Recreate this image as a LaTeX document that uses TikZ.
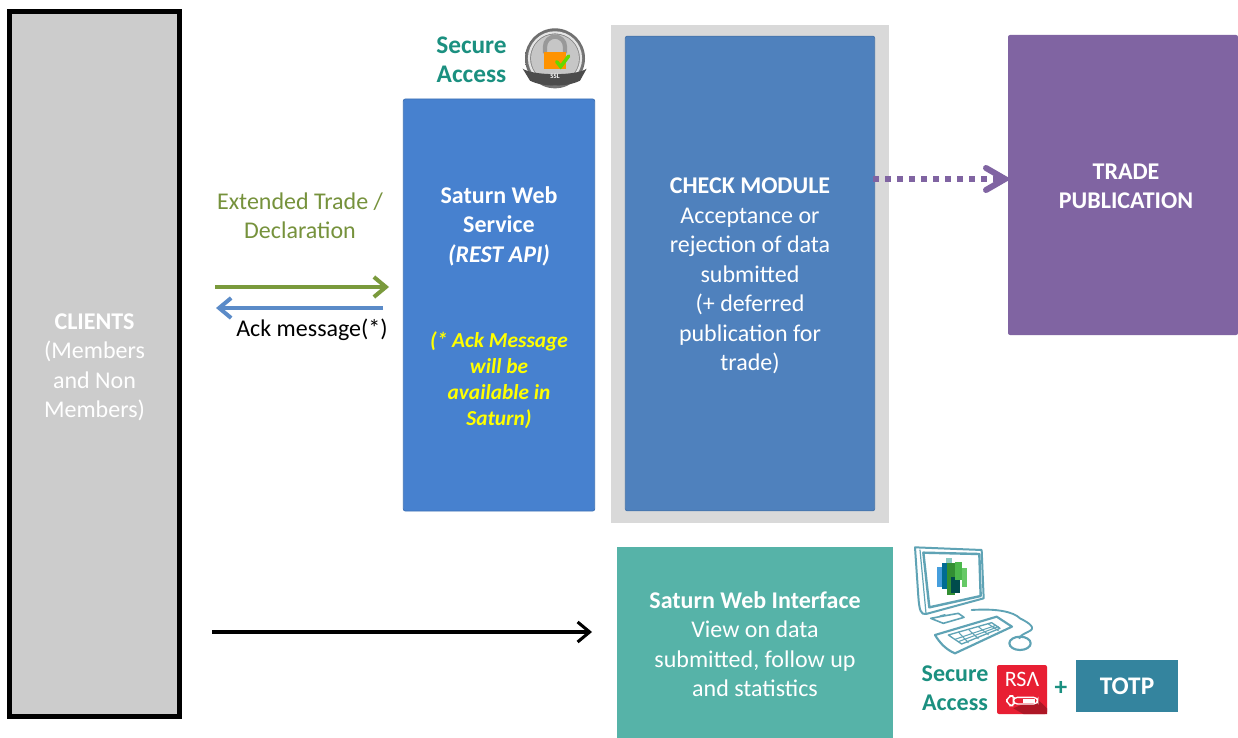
\documentclass[tikz,border=0pt]{standalone}
\usepackage{fontspec}
\setmainfont{Carlito}
\usetikzlibrary{arrows.meta,calc}
\definecolor{grayc}{HTML}{CCCCCC}
\definecolor{blueA}{HTML}{4781CF}
\definecolor{blueB}{HTML}{4F81BD}
\definecolor{grayd}{HTML}{D9D9D9}
\definecolor{purp}{HTML}{8064A2}
\definecolor{tealw}{HTML}{56B3A8}
\definecolor{totp}{HTML}{34849E}
\definecolor{sec}{HTML}{1B9080}
\definecolor{olive}{HTML}{7A9A3C}
\definecolor{olivet}{HTML}{76923C}
\definecolor{bluearr}{HTML}{5B8BC8}
\definecolor{yel}{HTML}{FFFF00}
\definecolor{rsa}{HTML}{E81F33}
\definecolor{pc}{HTML}{5FA3B5}
\tikzset{
  x=0.75pt,y=-0.75pt,
  every node/.style={inner sep=0pt,outer sep=0pt},
  main/.style={font=\fontsize{18}{22.1}\selectfont,align=center},
  secure/.style={font=\fontsize{19}{22.1}\selectfont\bfseries,text=sec,align=center},
  flow/.style={line width=3pt,-{Straight Barb[length=9pt,width=15pt,line width=3pt]}},
}
\begin{document}
\begin{tikzpicture}
\useasboundingbox (0,0) rectangle (1238,738);
\fill[white] (0,0) rectangle (1238,738);
% main boxes
\node[fill=grayc,draw=black,line width=3.75pt,minimum width=127.5pt,minimum height=528.75pt] (clients) at (94.5,364) {};
\node[main,text=white] (clientst) at (94.5,367.3) {\textbf{CLIENTS}\\(Members\\and Non\\Members)};
\node[fill=blueA,draw=blueA!88!black,line width=.6pt,rounded corners=1.5pt,minimum width=143.5pt,minimum height=309pt] (sws) at (499,305) {};
\node[main,text=white,anchor=north] (swst) at (499,186.3) {\textbf{Saturn Web}\\\textbf{Service}\\\textbf{\textit{(REST API)}}};
\node[font=\fontsize{16}{19.5}\selectfont\bfseries\itshape,text=yel,align=center] (ackn) at (499,380.5) {(* Ack Message\\will be\\available in\\Saturn)};
\node[fill=grayd,minimum width=208.5pt,minimum height=373.5pt] (checkbg) at (750,274) {};
\node[fill=blueB,draw=blueB!90!black,line width=.6pt,rounded corners=1.5pt,minimum width=187pt,minimum height=356pt] (check) at (750,273.5) {};
\node[main,text=white] (checkt) at (750,276) {\textbf{CHECK MODULE}\\Acceptance or\\rejection of data\\submitted\\(+ deferred\\publication for\\trade)};
\node[fill=purp,rounded corners=1.5pt,minimum width=172.5pt,minimum height=225pt] (pub) at (1123,185) {};
\node[main,text=white] (pubt) at (1126,186.5) {\textbf{TRADE}\\\textbf{PUBLICATION}};
\node[fill=tealw,minimum width=207pt,minimum height=143.25pt] (web) at (755,642.5) {};
\node[main,text=white] (webt) at (755,644.3) {\textbf{Saturn Web Interface}\\View on data\\submitted, follow up\\and statistics};
\node[font=\fontsize{19}{20}\selectfont\bfseries,text=white,fill=totp,minimum width=76.5pt,minimum height=39pt] (totpb) at (1127,686) {TOTP};
% labels
\node[main,text=olivet] (ext) at (300,215.5) {Extended Trade /\\Declaration};
\node[main,text=black] (ackm) at (312,329.5) {Ack message(*)};
\node[secure] (sa1) at (471.5,60) {Secure\\Access};
\node[secure,font=\fontsize{18}{22.1}\selectfont\bfseries] (sa2) at (955,688) {Secure\\Access};
\node[font=\fontsize{19}{20}\selectfont\bfseries,text=sec] (plus) at (1061,688) {+};
% connectors
\coordinate (g1) at (215,287); \coordinate (g2) at (389,287);
\coordinate (b1) at (383,308); \coordinate (b2) at (216,308);
\coordinate (k1) at (212,632); \coordinate (k2) at (592,632);
\coordinate (p1) at (873,179);
\draw[flow,olive] (g1) -- (g2);
\draw[flow,bluearr] (b1) -- (b2);
\draw[line width=2.3pt,black,-{Straight Barb[length=9pt,width=15pt,line width=2.3pt]}] (k1) -- (k2);
\draw[line width=4.5pt,purp,dash pattern=on 4.5pt off 4.5pt] (p1) -- ($(pub.west|-p1)+(-8,0)$);
\draw[line width=4.5pt,purp,line cap=round,line join=miter] ($(pub.west|-p1)+(-22,-11)$) -- ($(pub.west|-p1)+(-3,0)$) -- ($(pub.west|-p1)+(-22,11)$);
% SSL badge
\begin{scope}[shift={(400,10)},x=.25pt,y=-.25pt]
  \shade[inner color=gray!30,outer color=gray!85!black] (465,145) circle (90);
  \draw[white!80!gray,line width=1.6pt] (465,145) circle (78);
  \fill[gray!45] (465,145) circle (72);
  \draw[gray!80,line width=3.2pt] (435,130) -- (435,110) arc[start angle=180,end angle=360,radius=30] -- (495,130);
  \fill[orange!85!yellow] (432,125) rectangle (498,178);
  \draw[green!55!yellow!85!black,line width=2.6pt,line cap=round] (470,155) -- (482,170) -- (506,138);
  \fill[black!70] (368,176) .. controls (400,198) and (530,198) .. (560,176) -- (540,212) .. controls (500,232) and (430,232) .. (390,212) -- cycle;
  \node[font=\fontsize{5}{5}\selectfont\bfseries,text=white] (ssl) at (465,200) {SSL};
\end{scope}
% computer
\begin{scope}[shift={(890,530)},x=.25pt,y=-.25pt,pc,line cap=round,line join=round]
  \draw[line width=1.5pt] (75,52) -- (275,60) -- (281,205) -- (108,252) .. controls (92,255) and (88,240) .. (85,200) -- cycle;
  \draw[line width=1.8pt] (100,68) -- (268,72) -- (272,198) -- (118,232) -- cycle;
  \draw[line width=.9pt] (90,60) -- (108,250);
  \fill[tealw!70!white] (168,85) rectangle (186,110);
  \fill[cyan!70!blue!75] (140,110) rectangle (156,172);
  \fill[teal!85!blue] (156,100) rectangle (172,178);
  \fill[green!45!black!80] (172,100) rectangle (196,195);
  \fill[teal!60!black] (183,140) rectangle (210,190);
  \fill[green!60!black!70] (196,95) rectangle (216,150);
  \fill[green!65!black!60] (216,115) rectangle (232,170);
  \draw[line width=1.2pt] (122,265) -- (205,250) -- (222,262) -- (160,280) -- cycle;
  \draw[line width=1pt] (150,258) -- (165,254);
  \draw[line width=1.6pt] (135,315) -- (320,260) -- (366,290) -- (195,370) .. controls (170,360) and (150,340) .. (135,315) -- cycle;
  \draw[line width=1pt] (175,315) -- (305,278) -- (330,295) -- (215,342) -- cycle;
  \draw[line width=.8pt] (195,328) -- (318,286);
  \draw[line width=.8pt] (205,335) -- (325,290);
  \foreach \i in {0,1,2,3} \draw[line width=.8pt] ({205+\i*30},{306-\i*8}) -- ({235+\i*30},{338-\i*12});
  \draw[line width=1.4pt] (245,240) .. controls (320,235) and (370,245) .. (390,265) .. controls (420,280) and (440,295) .. (415,305) .. controls (395,315) and (390,318) .. (388,325);
  \draw[line width=1.6pt] (390,340) ellipse (32 and 20);
\end{scope}
% RSA token
\begin{scope}[shift={(890,530)},x=.25pt,y=-.25pt]
  \fill[rsa,rounded corners=1.5pt] (321,405) rectangle (471,552);
  \fill[black!25!rsa] (370,535) -- (440,505) -- (471,535) -- (471,552) -- (400,552) -- cycle;
  \node[font=\fontsize{16.5}{17}\selectfont,text=white] (rsat) at (396,448) {RSΛ};
  \draw[white,line width=1pt,rounded corners=5pt] (350,497) rectangle (378,527);
  \draw[white,line width=1pt,rounded corners=3pt,fill=rsa] (370,502) rectangle (443,522);
  \fill[white] (398,507) rectangle (435,518);
\end{scope}
\end{tikzpicture}
\end{document}
